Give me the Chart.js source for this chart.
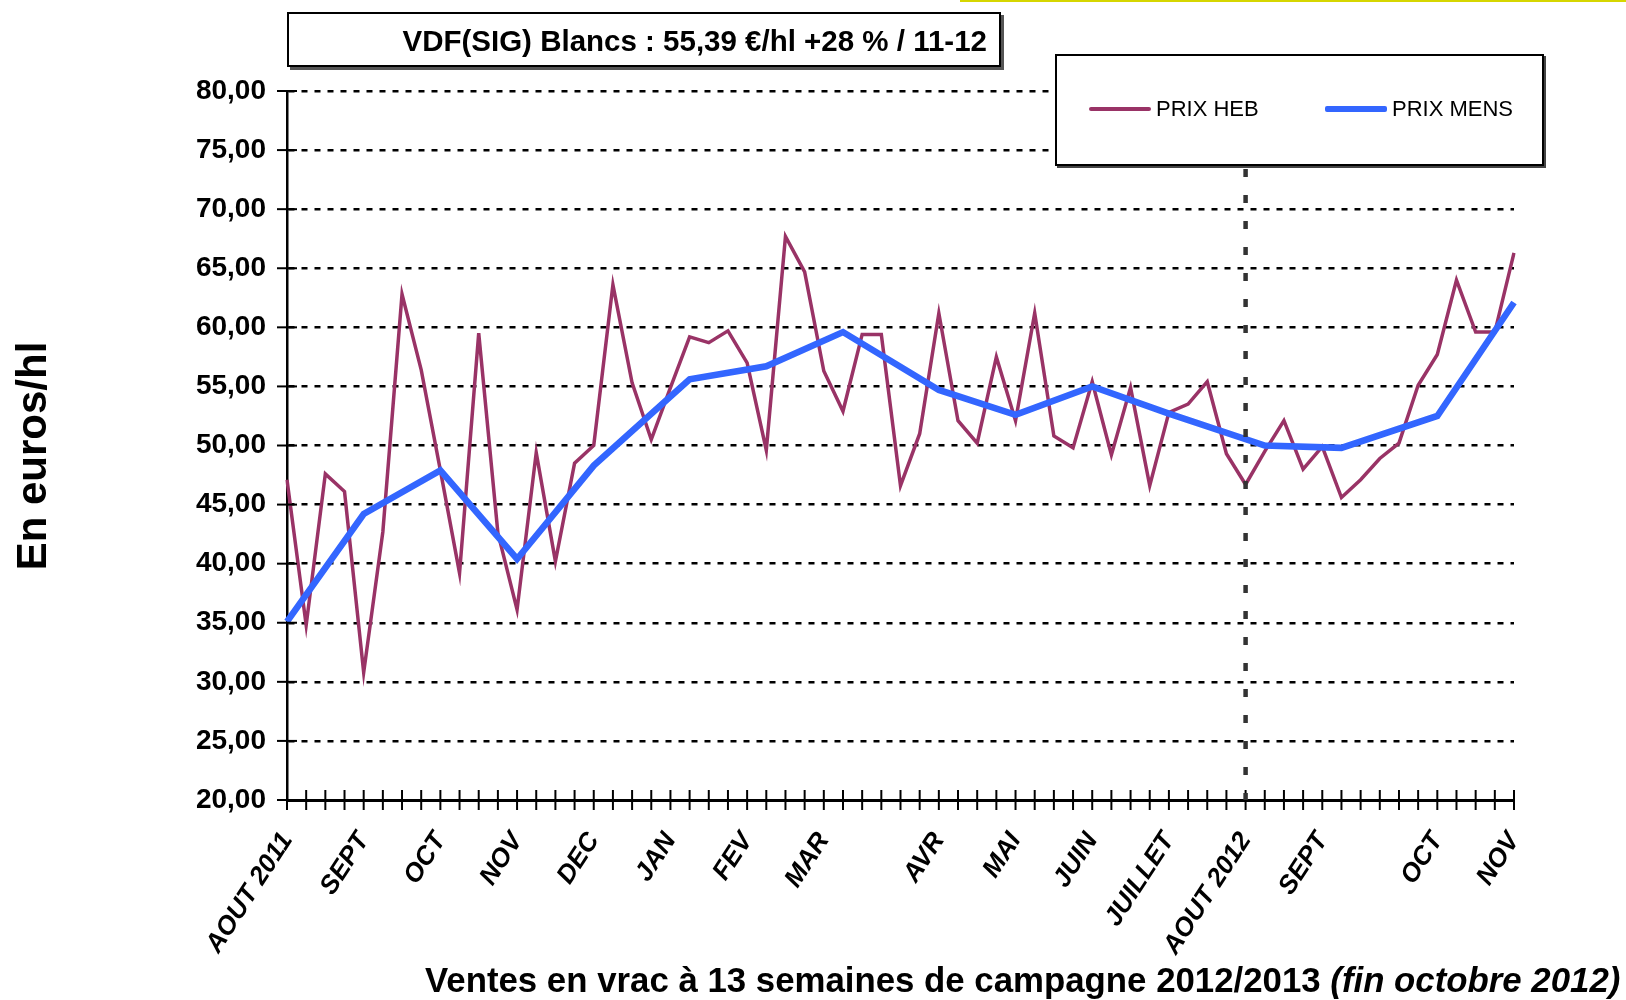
<!DOCTYPE html>
<html lang="fr">
<head>
<meta charset="utf-8">
<title>VDF(SIG) Blancs</title>
<script src="https://cdn.jsdelivr.net/npm/chart.js@4.4.1/dist/chart.umd.min.js"></script>
<style>
  body { margin: 0; background: #fff; font-family: "Liberation Sans", Arial, sans-serif; }
  #wrap { position: relative; width: 1626px; height: 1000px; }
  #titre {
    position: absolute; left: 287px; top: 12px; width: 714px; height: 55px;
    box-sizing: border-box; border: 2px solid #000; box-shadow: 3px 3px 0 #555;
    background: #fff; text-align: right; padding: 2px 12px 0 0;
    font-weight: bold; font-size: 29.5px; line-height: 49px; white-space: nowrap;
  }
  #legende {
    position: absolute; left: 1055px; top: 54px; width: 489px; height: 112px;
    box-sizing: border-box; border: 2px solid #000; box-shadow: 2px 2px 0 #444;
    background: #fff;
  }
  .trait { position: absolute; height: 4px; border-radius: 2px; }
  .nom { position: absolute; font-size: 22px; line-height: 22px; top: 42px; white-space: nowrap; }
  #titreX {
    position: absolute; left: 425px; top: 963px; font-weight: bold; font-size: 34.8px;
    line-height: 34px; white-space: nowrap;
  }
  #bande { position: absolute; left: 960px; top: 0; width: 666px; height: 2px; background: #d6d600; }
</style>
</head>
<body>
<div id="wrap">
  <canvas id="prixChart"></canvas>
  <div id="bande"></div>
  <div id="titre">VDF(SIG) Blancs : 55,39 €/hl +28 % / 11-12</div>
  <div id="legende">
    <div class="trait" style="left:32px; top:51px; width:62px; background:#993366;"></div>
    <div class="nom" style="left:99px;">PRIX HEB</div>
    <div class="trait" style="left:268px; top:50px; width:62px; height:6px; background:#3366FF;"></div>
    <div class="nom" style="left:335px;">PRIX MENS</div>
  </div>
  <div id="titreX">Ventes en vrac à 13 semaines de campagne 2012/2013 <i>(fin octobre 2012)</i></div>
</div>
<script>
const moisLabels = ["AOUT 2011", "SEPT", "OCT", "NOV", "DEC", "JAN", "FEV", "MAR", "AVR", "MAI", "JUIN", "JUILLET", "AOUT 2012", "SEPT", "OCT", "NOV"];
const moisSemaine = [0, 4, 8, 12, 16, 20, 24, 28, 34, 38, 42, 46, 50, 54, 60, 64];

// prix hebdomadaire, une valeur par semaine
const prixHeb = [
  47.1, 34.8, 47.6, 46.1, 30.8, 42.7, 62.8, 56.4, 47.9, 39.2,
  59.5, 42.6, 36.1, 49.4, 40.2, 48.5, 50.0, 63.6, 55.3, 50.5,
  54.9, 59.2, 58.7, 59.7, 57.0, 49.6, 67.7, 64.7, 56.3, 52.9,
  59.4, 59.4, 46.6, 51.0, 61.2, 52.1, 50.2, 57.5, 52.1, 61.2,
  50.8, 49.8, 55.4, 49.2, 54.9, 46.6, 52.8, 53.5, 55.4, 49.3,
  46.7, 49.5, 52.1, 48.0, 49.9, 45.6, 47.1, 48.9, 50.2, 55.1,
  57.7, 64.0, 59.6, 59.6, 66.3
];

// prix mensuel et semaine où il est placé
const mensSemaine = [0, 4, 8, 12, 16, 21, 25, 29, 34, 38, 42, 46, 51, 55, 60, 64];
const prixMens = [35.1, 44.2, 47.9, 40.4, 48.3, 55.6, 56.7, 59.6, 54.7, 52.6, 55.0, 52.7, 50.0, 49.8, 52.5, 62.1];

const yTicks = { min: 20, max: 80, pas: 5 };
const debutCampagne = 50;

const semaines = prixHeb.map(() => "");
moisSemaine.forEach((s, k) => { semaines[s] = moisLabels[k]; });

const mensParSemaine = prixHeb.map(() => null);
mensSemaine.forEach((s, k) => { mensParSemaine[s] = prixMens[k]; });

const police = '"Liberation Sans", Arial, sans-serif';

const axesCroises = {
  id: "axesCroises",
  afterDraw(chart) {
    const { ctx, chartArea, scales: { x, y } } = chart;
    ctx.save();
    ctx.strokeStyle = "#000";
    ctx.lineWidth = 2;
    semaines.forEach((_, i) => {
      const px = x.getPixelForValue(i);
      ctx.beginPath();
      ctx.moveTo(px, chartArea.bottom - 10);
      ctx.lineTo(px, chartArea.bottom + 10);
      ctx.stroke();
    });
    y.ticks.forEach(t => {
      const py = y.getPixelForValue(t.value);
      ctx.beginPath();
      ctx.moveTo(chartArea.left - 10, py);
      ctx.lineTo(chartArea.left + 10, py);
      ctx.stroke();
    });

    const px = x.getPixelForValue(debutCampagne);
    ctx.strokeStyle = "#333";
    ctx.lineWidth = 4.5;
    ctx.setLineDash([8, 18]);
    ctx.beginPath();
    ctx.moveTo(px, chartArea.top);
    ctx.lineTo(px, chartArea.bottom);
    ctx.stroke();
    ctx.setLineDash([]);

    // titre de l'axe des valeurs
    ctx.translate(34, 456);
    ctx.rotate(-Math.PI / 2);
    ctx.fillStyle = "#000";
    ctx.font = "bold 42px " + police;
    ctx.textAlign = "center";
    ctx.textBaseline = "middle";
    ctx.fillText("En euros/hl", 0, 0);
    ctx.restore();
  }
};

const ctx = document.getElementById("prixChart");
new Chart(ctx, {
  type: "line",
  data: {
    labels: semaines,
    datasets: [
      {
        label: "PRIX MENS",
        data: mensParSemaine,
        spanGaps: true,
        borderColor: "#3366FF",
        borderWidth: 6.5,
        pointRadius: 0,
        tension: 0,
        order: 0
      },
      {
        label: "PRIX HEB",
        data: prixHeb,
        borderColor: "#993366",
        borderWidth: 3.5,
        pointRadius: 0,
        tension: 0,
        order: 1
      }
    ]
  },
  options: {
    responsive: true,
    maintainAspectRatio: false,
    animation: false,
    layout: { padding: { left: 10, right: 112, top: 91, bottom: 0 } },
    plugins: { legend: { display: false }, tooltip: { enabled: false } },
    scales: {
      x: {
        type: "category",
        afterFit: s => { s.height = 200; },
        grid: { display: false, drawTicks: false },
        border: { display: true, color: "#000", width: 3 },
        ticks: {
          autoSkip: false,
          maxRotation: 57,
          minRotation: 57,
          padding: 27,
          color: "#000",
          font: { family: police, size: 26, weight: "bold", style: "italic" }
        }
      },
      y: {
        min: yTicks.min,
        max: yTicks.max,
        afterFit: s => { s.width = 277; },
        grid: { color: "#000", lineWidth: 2.5, drawTicks: false },
        border: { display: true, color: "#000", width: 2.5, dash: [6, 7] },
        ticks: {
          stepSize: yTicks.pas,
          padding: 21,
          color: "#000",
          font: { family: police, size: 28, weight: "bold" },
          callback: v => v.toFixed(2).replace(".", ",")
        }
      }
    }
  },
  plugins: [axesCroises]
});
</script>
</body>
</html>
